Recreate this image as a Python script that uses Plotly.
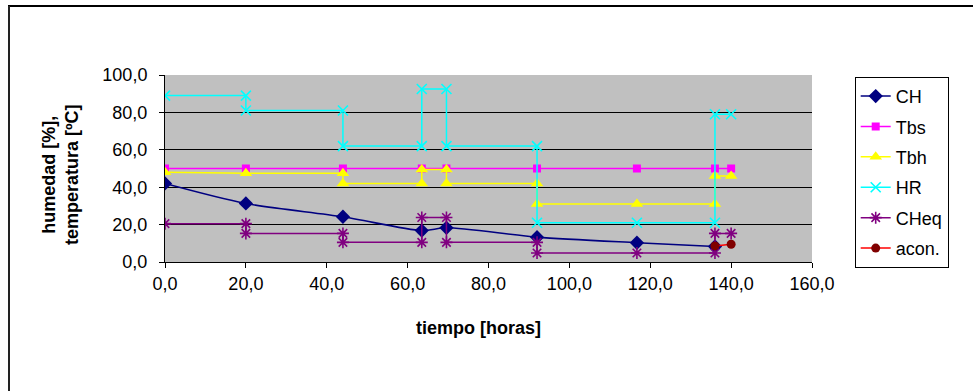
import plotly.graph_objects as go

# ---- data ----
ch_x = [0, 20, 44, 63.5, 69.6, 92, 116.7, 136]
ch_y = [42.0, 31.3, 24.2, 16.8, 18.3, 13.3, 10.3, 8.3]

tbs_x = [0, 20, 44, 63.5, 69.6, 92, 116.7, 136, 140]
tbs_y = [50, 50, 50, 50, 50, 50, 50, 50, 50]

tbh_x = [0, 20, 44, 44, 63.5, 63.5, 69.6, 69.6, 92, 92, 116.7, 136, 136, 140]
tbh_y = [48, 47.5, 47.5, 42, 42, 49.5, 49.5, 42, 42, 31, 31, 31, 46, 46]

hr_x = [0, 20, 20, 44, 44, 63.5, 63.5, 69.6, 69.6, 92, 92, 116.7, 136, 136, 140]
hr_y = [89, 89, 81, 81, 62, 62, 92.5, 92.5, 62, 62, 21, 21, 21, 79, 79]

cheq_x = [0, 20, 20, 44, 44, 63.5, 63.5, 69.6, 69.6, 92, 92, 116.7, 136, 136, 140]
cheq_y = [20.5, 20.5, 15.3, 15.3, 10.5, 10.5, 23.8, 23.8, 10.5, 10.5, 4.8, 4.8, 4.8, 15.3, 15.3]

acon_x = [136, 140]
acon_y = [8.6, 9.5]

x_ticks = [0, 20, 40, 60, 80, 100, 120, 140, 160]
y_ticks = [0, 20, 40, 60, 80, 100]

FONT = "Liberation Sans, Arial, sans-serif"
FS = 18

fig = go.Figure()
fig.add_trace(go.Scatter(x=ch_x, y=ch_y, name="CH", mode="lines+markers", legendgroup="a",
                         line=dict(color="#000080", width=1.6, shape="spline", smoothing=0.8),
                         marker=dict(symbol="diamond", size=11, color="#000080")))
fig.add_trace(go.Scatter(x=tbs_x, y=tbs_y, name="Tbs", mode="lines+markers", legendgroup="b",
                         line=dict(color="#FF00FF", width=1.5),
                         marker=dict(symbol="square", size=8, color="#FF00FF")))
fig.add_trace(go.Scatter(x=tbh_x, y=tbh_y, name="Tbh", mode="lines+markers", legendgroup="c",
                         line=dict(color="#FFFF00", width=1.5),
                         marker=dict(symbol="triangle-up", size=11, color="#FFFF00")))
fig.add_trace(go.Scatter(x=hr_x, y=hr_y, name="HR", mode="lines+markers", legendgroup="d",
                         line=dict(color="#00FFFF", width=1.5),
                         marker=dict(symbol="x-thin-open", size=10,
                                     line=dict(color="#00FFFF", width=1.6))))
fig.add_trace(go.Scatter(x=cheq_x, y=cheq_y, name="CHeq", mode="lines+markers", legendgroup="e",
                         line=dict(color="#800080", width=1.5),
                         marker=dict(symbol="asterisk-open", size=10,
                                     line=dict(color="#800080", width=1.6))))
fig.add_trace(go.Scatter(x=acon_x, y=acon_y, name="acon.", mode="lines+markers", legendgroup="f",
                         line=dict(color="#FF0000", width=1.5),
                         marker=dict(symbol="circle", size=9, color="#800000")))

fig.update_layout(
    width=973, height=391,
    margin=dict(l=165, r=161, t=75, b=129),
    paper_bgcolor="white", plot_bgcolor="#C0C0C0",
    separators=",.",
    font=dict(family=FONT, size=FS, color="black"),
    showlegend=True,
    legend=dict(x=1.066, y=0.99, xanchor="left", yanchor="top",
                bordercolor="black", borderwidth=1, bgcolor="white",
                font=dict(family=FONT, size=FS), itemwidth=30,
                tracegroupgap=4, maxheight=320),
)
fig.update_xaxes(range=[0, 160], tickvals=x_ticks, tickformat=".1f",
                 showgrid=False, zeroline=False, showline=True, linecolor="black",
                 linewidth=1, ticks="outside", ticklen=5, tickcolor="black",
                 tickfont=dict(family=FONT, size=FS))
fig.update_yaxes(range=[0, 100], tickvals=y_ticks, tickformat=".1f",
                 showgrid=True, gridcolor="black", gridwidth=1, zeroline=False,
                 showline=True, linecolor="black", linewidth=1, ticks="outside",
                 ticklen=5, tickcolor="black", ticklabelstandoff=8,
                 tickfont=dict(family=FONT, size=FS))

fig.add_annotation(text="<b>tiempo [horas]</b>", xref="paper", yref="paper",
                   x=0.485, y=(262 - 328) / 187, xanchor="center", yanchor="middle",
                   showarrow=False, font=dict(family=FONT, size=FS))
fig.add_annotation(text="<b>humedad [%],<br>temperatura [ºC]</b>", xref="paper", yref="paper",
                   x=(60 - 165) / 647, y=(262 - 175) / 187, xanchor="center", yanchor="middle",
                   textangle=-90, showarrow=False, font=dict(family=FONT, size=FS))

# outer chart frame (only top and left edges visible in the reference)
fig.add_shape(type="line", xref="paper", yref="paper",
              x0=(8 - 165) / 647, x1=(990 - 165) / 647,
              y0=(262 - 6) / 187, y1=(262 - 6) / 187,
              line=dict(color="black", width=2))
fig.add_shape(type="line", xref="paper", yref="paper",
              x0=(9 - 165) / 647, x1=(9 - 165) / 647,
              y0=(262 - 6) / 187, y1=(262 - 400) / 187,
              line=dict(color="#222222", width=2))

fig.write_html("out.html")
